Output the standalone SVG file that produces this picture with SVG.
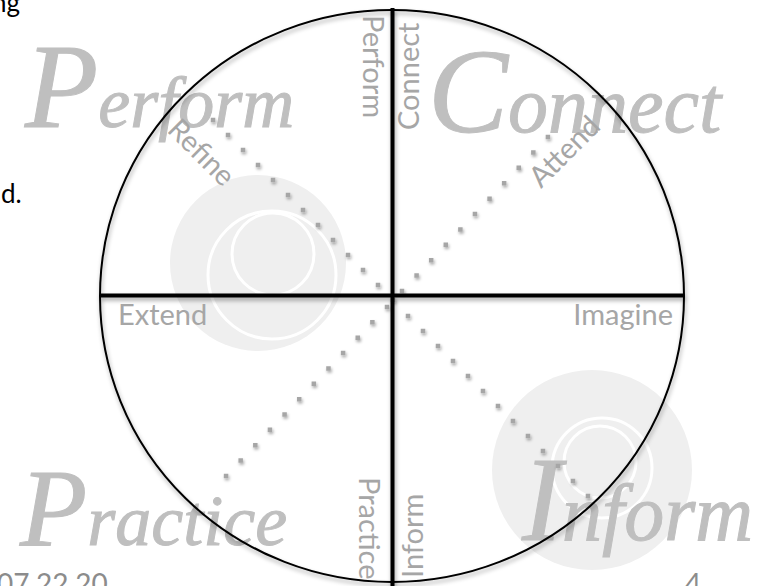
<svg xmlns="http://www.w3.org/2000/svg" width="759" height="586" viewBox="0 0 759 586">
<defs>
<filter id="sh" x="-10%" y="-10%" width="120%" height="120%"><feDropShadow dx="1" dy="3" stdDeviation="2" flood-color="#000" flood-opacity="0.35"/></filter>
<filter id="dsh" x="-10%" y="-10%" width="120%" height="120%"><feDropShadow dx="1" dy="2" stdDeviation="1.5" flood-color="#000" flood-opacity="0.35"/></filter>
</defs>
<style>
.script{font-family:"Liberation Serif",serif;font-style:italic;fill:#bfbfbf;stroke:#bfbfbf;stroke-width:1;}
.lbl{font-family:Lato,"Open Sans",sans-serif;font-size:29px;fill:#a6a6a6;}
.page{font-family:Lato,"Open Sans",sans-serif;font-size:26px;fill:#000;}
.foot{font-family:Lato,"Open Sans",sans-serif;font-size:28px;fill:#8c8c8c;}
.blob{fill:#efefef;}
.ring{fill:none;stroke:#fff;stroke-width:3;}
.dots{fill:none;stroke:#a6a6a6;stroke-width:4.5;stroke-linecap:square;stroke-dasharray:0 21.21;}
.axis{stroke:#000;stroke-width:4;}
</style>
<g id="page-text">
<text class="page" x="20" y="12" text-anchor="end">ng</text>
<text class="page" x="1" y="203">d.</text>
<text class="foot" x="-3" y="594">07.22.20</text>
<text class="foot" x="685" y="594">4</text>
</g>
<g id="blobs">
<circle class="blob" cx="258" cy="263" r="88"/>
<circle class="ring" cx="272" cy="275" r="64"/>
<circle class="ring" cx="273" cy="254" r="41"/>
<circle class="blob" cx="592" cy="470" r="100"/>
<circle class="ring" cx="602" cy="468" r="50"/>
<circle class="ring" cx="600" cy="462" r="36"/>
</g>
<g id="script-words">
<text class="script" x="25" y="127" font-size="72"><tspan font-size="120">P</tspan>erform</text>
<text class="script" x="428" y="132" font-size="80"><tspan font-size="120">C</tspan>onnect</text>
<text class="script" x="20" y="545" font-size="72"><tspan font-size="110">P</tspan>ractice</text>
<text class="script" x="522" y="540" font-size="80"><tspan font-size="120">I</tspan>nform</text>
</g>
<g id="circle">
<ellipse cx="392" cy="296" rx="292" ry="286" fill="none" stroke="#000" stroke-width="2" filter="url(#sh)"/>
</g>
<g id="connectors" filter="url(#dsh)">
<path class="dots" d="M393,300 L213,120"/>
<path class="dots" d="M402,291 L548,137"/>
<path class="dots" d="M387,307 L225,477"/>
<path class="dots" d="M408,316 L588,496"/>
</g>
<g id="axes" filter="url(#sh)">
<line class="axis" x1="100" y1="295.5" x2="684" y2="295.5"/>
<line class="axis" x1="392.5" y1="8" x2="392.5" y2="586"/>
</g>
<g id="labels">
<g id="perform"><text class="lbl" transform="translate(363,15) rotate(90)">Perform</text></g>
<g id="connect"><text class="lbl" transform="translate(419,130) rotate(-90)">Connect</text></g>
<g id="practice"><text class="lbl" transform="translate(359,477) rotate(90)">Practice</text></g>
<g id="inform"><text class="lbl" transform="translate(423,578) rotate(-90)">Inform</text></g>
<g id="extend"><text class="lbl" x="118" y="325">Extend</text></g>
<g id="imagine"><text class="lbl" x="673" y="325" text-anchor="end">Imagine</text></g>
<g id="refine"><text class="lbl" transform="translate(166,131) rotate(45)">Refine</text></g>
<g id="attend"><text class="lbl" transform="translate(541,189) rotate(-45)">Attend</text></g>
</g>
</svg>
